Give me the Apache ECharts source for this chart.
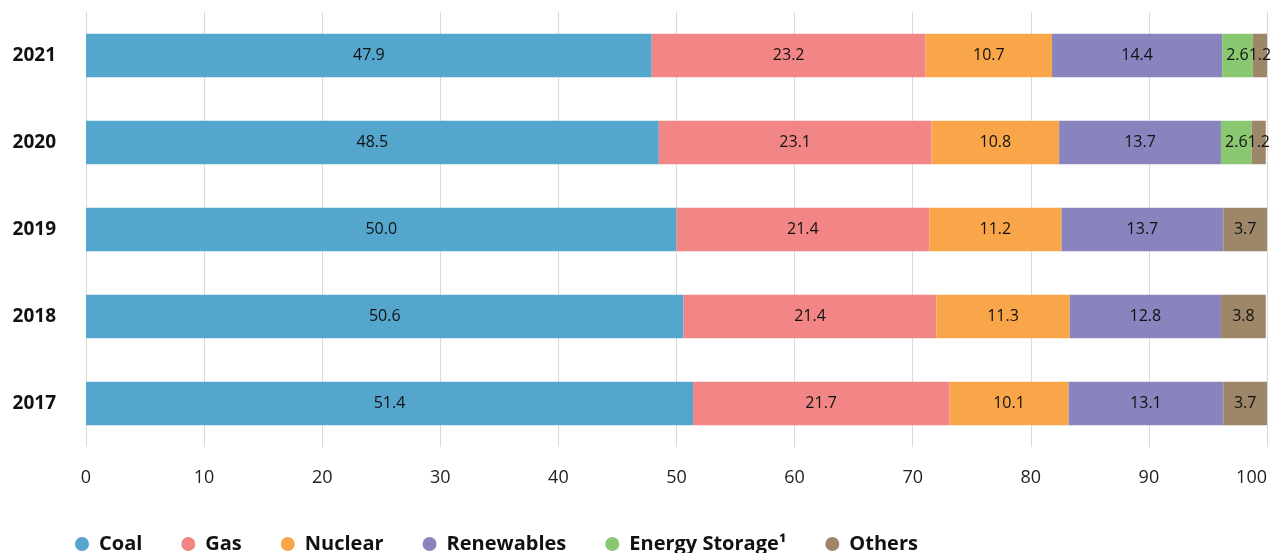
<!DOCTYPE html>
<html>
<head>
<meta charset="utf-8">
<script src="https://cdn.jsdelivr.net/npm/echarts@6/dist/echarts.min.js"></script>
<style>
  html, body { margin: 0; padding: 0; background: #fff; }
  #chart { width: 1271px; height: 553px; }
</style>
</head>
<body>
<div id="chart"></div>
<script>
// years, bottom to top
var years = ['2017', '2018', '2019', '2020', '2021'];
var coal = [51.4, 50.6, 50.0, 48.5, 47.9];
var gas = [21.7, 21.4, 21.4, 23.1, 23.2];
var nuclear = [10.1, 11.3, 11.2, 10.8, 10.7];
var renewables = [13.1, 12.8, 13.7, 13.7, 14.4];
var storage = [null, null, null, 2.6, 2.6];
var others = [3.7, 3.8, 3.7, 1.2, 1.2];
var xTicks = [0, 10, 20, 30, 40, 50, 60, 70, 80, 90, 100];

var myChart = echarts.init(document.getElementById('chart'));

function bar(name, data, color) {
  return {
    name: name,
    type: 'bar',
    stack: 'total',
    barCategoryGap: '50%',
    data: data,
    itemStyle: { color: color },
    label: {
      show: true,
      position: 'inside',
      color: '#111',
      fontSize: 16,
      fontFamily: 'Open Sans',
      formatter: function (p) { return p.value == null ? '' : p.value.toFixed(1); }
    }
  };
}

var option = {
  animation: false,
  grid: { left: 86, right: 4, top: 12, bottom: 106, outerBoundsMode: 'none', containLabel: false },
  legend: {
    left: 70,
    top: 529,
    icon: 'circle',
    itemWidth: 14,
    itemHeight: 14,
    itemGap: 39,
    textStyle: { fontSize: 20, fontWeight: 'bold', color: '#111', fontFamily: 'Open Sans', padding: [0, 0, 0, 5] }
  },
  xAxis: {
    type: 'value',
    min: 0,
    max: 100,
    interval: 10,
    axisLine: { show: false },
    axisTick: { show: false },
    splitLine: { show: true, lineStyle: { color: '#d9d9d9', width: 1 } },
    axisLabel: {
      margin: 22,
      fontSize: 18,
      color: '#222',
      fontFamily: 'Open Sans',
      alignMaxLabel: 'right',
      formatter: function (v) { return xTicks.indexOf(v) >= 0 ? String(v) : ''; }
    }
  },
  yAxis: {
    type: 'category',
    data: years,
    axisLine: { show: false },
    axisTick: { show: false },
    axisLabel: { margin: 30, fontSize: 19, fontWeight: 'bold', color: '#111', fontFamily: 'Open Sans' }
  },
  series: [
    bar('Coal', coal, '#55a6cd'),
    bar('Gas', gas, '#f28686'),
    bar('Nuclear', nuclear, '#f9a64b'),
    bar('Renewables', renewables, '#8983be'),
    bar('Energy Storage\u00b9', storage, '#89c871'),
    bar('Others', others, '#9e8669')
  ]
};
myChart.setOption(option);
</script>
</body>
</html>
